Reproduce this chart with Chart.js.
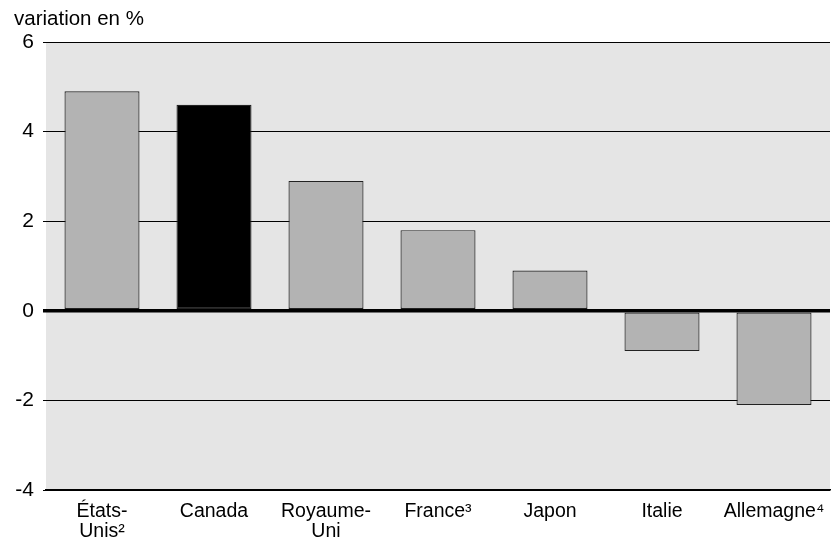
<!DOCTYPE html>
<html lang="fr">
<head>
  <meta charset="UTF-8">
  <title>Variation en %</title>
  <script src="https://cdn.jsdelivr.net/npm/chart.js@4.4.0/dist/chart.umd.min.js"></script>
  <style>
    html, body { margin: 0; padding: 0; background: #fff; }
    #wrap { width: 834px; height: 540px; position: relative; }
  </style>
</head>
<body>
  <div id="wrap"><canvas id="chart"></canvas></div>
  <script>
    // données
    const countries = [['États-', 'Unis²'], 'Canada', ['Royaume-', 'Uni'], 'France³', 'Japon', 'Italie', 'Allemagne⁴'];
    const values = [4.9, 4.6, 2.9, 1.8, 0.9, -0.9, -2.1];
    const barColors = ['#b3b3b3', '#000000', '#b3b3b3', '#b3b3b3', '#b3b3b3', '#b3b3b3', '#b3b3b3'];
    const yMin = -4, yMax = 6, yStep = 2;
    const unitLabel = 'variation en %';

    const FONT = '"Liberation Sans", Arial, sans-serif';

    // fond gris de la zone du graphique + titre d'unité
    const plotBg = {
      id: 'plotBg',
      beforeDraw(chart) {
        const { ctx, chartArea: a } = chart;
        ctx.save();
        ctx.fillStyle = '#e5e5e5';
        ctx.fillRect(a.left, a.top, a.right - a.left, a.bottom - a.top);
        ctx.restore();
      },
      afterDraw(chart) {
        const ctx = chart.ctx;
        ctx.save();
        ctx.fillStyle = '#000';
        ctx.font = '20.5px ' + FONT;
        ctx.textBaseline = 'alphabetic';
        ctx.fillText(unitLabel, 14, 25);
        ctx.restore();
      }
    };

    new Chart(document.getElementById('chart'), {
      type: 'bar',
      data: {
        labels: countries,
        datasets: [{
          data: values,
          backgroundColor: barColors,
          borderColor: '#222',
          borderWidth: 1.2,
          borderSkipped: false,
          barPercentage: 0.67,
          categoryPercentage: 1
        }]
      },
      options: {
        responsive: true,
        maintainAspectRatio: false,
        animation: false,
        layout: { padding: { top: 42, right: 4, left: 0, bottom: 0 } },
        plugins: { legend: { display: false }, tooltip: { enabled: false } },
        scales: {
          x: {
            grid: { display: false },
            border: { display: true, color: '#000', width: 1.5 },
            ticks: {
              color: '#000',
              padding: 4,
              maxRotation: 0,
              autoSkip: false,
              font: { family: FONT, size: 19.5, lineHeight: 1.0 }
            },
            afterFit(scale) { scale.height = 50; }
          },
          y: {
            min: yMin,
            max: yMax,
            border: { display: false },
            grid: {
              color: '#000',
              lineWidth: c => (c.tick && c.tick.value === 0 ? 3.5 : 1),
              tickLength: 3,
              drawTicks: true
            },
            ticks: {
              stepSize: yStep,
              color: '#000',
              padding: 9,
              font: { family: FONT, size: 21 }
            },
            afterFit(scale) { scale.width = 46; }
          }
        }
      },
      plugins: [plotBg]
    });
  </script>
</body>
</html>
